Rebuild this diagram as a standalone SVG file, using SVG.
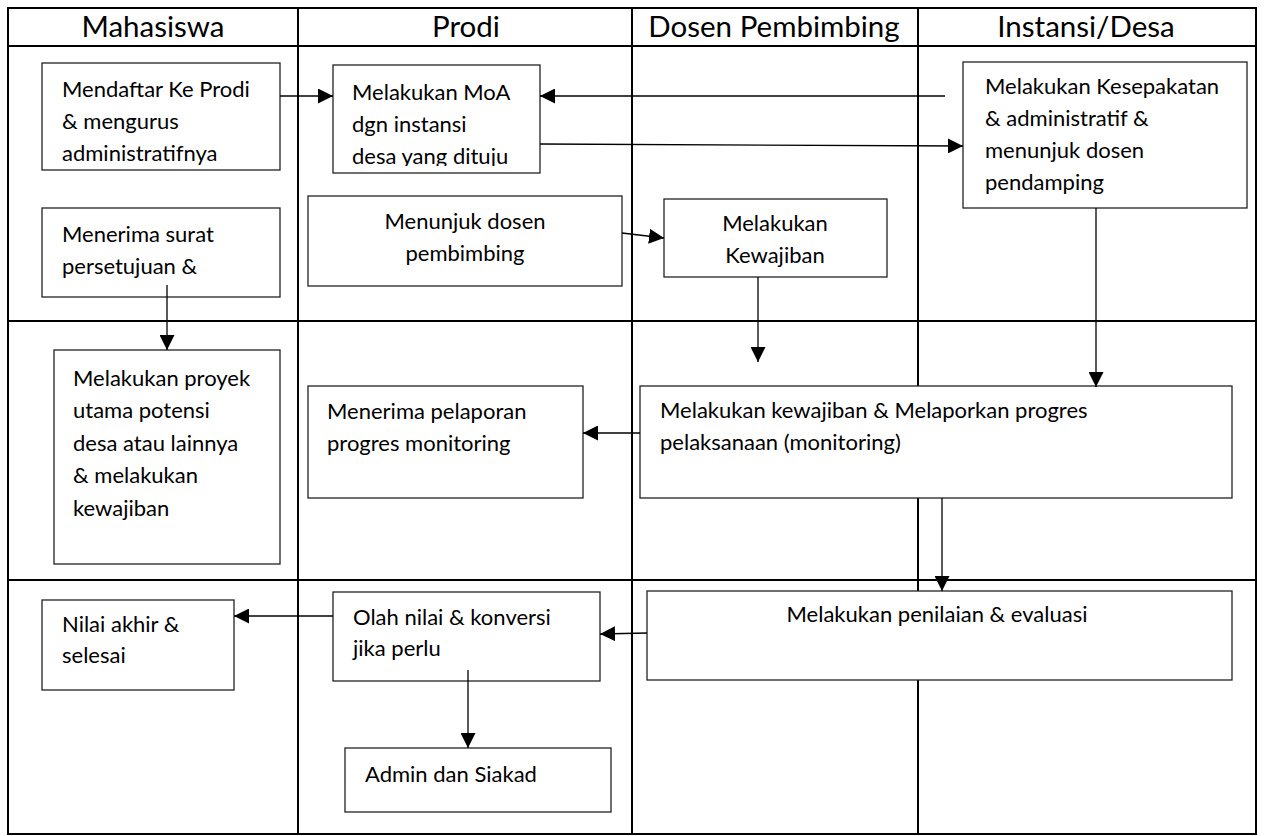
<svg xmlns="http://www.w3.org/2000/svg" width="1264" height="836" viewBox="0 0 1264 836">
  <style>
    .grid { stroke: #000; stroke-width: 2; fill: none; }
    .box { fill: #fff; stroke: #222; stroke-width: 1.3; }
    .hdr { font-family: Lato, "Open Sans", sans-serif; font-size: 29.5px; fill: #000; text-anchor: middle; }
    .t { font-family: Lato, "Open Sans", sans-serif; font-size: 22px; fill: #000; }
    .c { text-anchor: middle; }
    .edge { stroke: #000; stroke-width: 1.3; fill: none; marker-end: url(#arrow); }
  </style>
  <defs>
    <marker id="arrow" markerWidth="15" markerHeight="15" refX="15" refY="7.5" orient="auto" markerUnits="userSpaceOnUse">
      <path d="M0,0 L15,7.5 L0,15 Z" fill="#000"/>
    </marker>
    <clipPath id="clipMoa"><rect x="333" y="65" width="207" height="101"/></clipPath>
  </defs>

  <rect width="1264" height="836" fill="#fff"/>

  <!-- swimlane table -->
  <g id="lanes">
    <rect class="grid" x="8" y="8" width="1248" height="826"/>
    <line class="grid" x1="8" y1="46" x2="1256" y2="46"/>
    <line class="grid" x1="8" y1="321" x2="1256" y2="321"/>
    <line class="grid" x1="8" y1="580" x2="1256" y2="580"/>
    <line class="grid" x1="298" y1="8" x2="298" y2="834"/>
    <line class="grid" x1="632" y1="8" x2="632" y2="834"/>
    <line class="grid" x1="918" y1="8" x2="918" y2="834"/>
    <text class="hdr" x="153" y="37">Mahasiswa</text>
    <text class="hdr" x="466" y="37">Prodi</text>
    <text class="hdr" x="774" y="37">Dosen Pembimbing</text>
    <text class="hdr" x="1086" y="37">Instansi/Desa</text>
  </g>

  <g id="n-mendaftar">
    <rect class="box" x="42" y="63" width="238" height="107"/>
    <text class="t" x="62" y="97">Mendaftar Ke Prodi</text>
    <text class="t" x="62" y="129">&amp; mengurus</text>
    <text class="t" x="62" y="161">administratifnya</text>
  </g>

  <g id="n-moa">
    <rect class="box" x="333" y="65" width="207" height="108"/>
    <g clip-path="url(#clipMoa)">
      <text class="t" x="352" y="100">Melakukan MoA</text>
      <text class="t" x="352" y="132">dgn instansi</text>
      <text class="t" x="352" y="164">desa yang dituju</text>
    </g>
  </g>

  <g id="n-kesepakatan">
    <rect class="box" x="963" y="62" width="284" height="146"/>
    <text class="t" x="985" y="94">Melakukan Kesepakatan</text>
    <text class="t" x="985" y="126">&amp; administratif &amp;</text>
    <text class="t" x="985" y="158">menunjuk dosen</text>
    <text class="t" x="985" y="190">pendamping</text>
  </g>

  <g id="n-surat">
    <rect class="box" x="42" y="208" width="238" height="89"/>
    <text class="t" x="62" y="242">Menerima surat</text>
    <text class="t" x="62" y="274">persetujuan &amp;</text>
  </g>

  <g id="n-menunjuk">
    <rect class="box" x="308" y="196" width="314" height="90"/>
    <text class="t c" x="465" y="229">Menunjuk dosen</text>
    <text class="t c" x="465" y="261">pembimbing</text>
  </g>

  <g id="n-kewajiban-dosen">
    <rect class="box" x="664" y="199" width="223" height="78"/>
    <text class="t c" x="775" y="231">Melakukan</text>
    <text class="t c" x="775" y="263">Kewajiban</text>
  </g>

  <g id="n-proyek">
    <rect class="box" x="54" y="350" width="226" height="214"/>
    <text class="t" x="73" y="386">Melakukan proyek</text>
    <text class="t" x="73" y="418">utama potensi</text>
    <text class="t" x="73" y="451">desa atau lainnya</text>
    <text class="t" x="73" y="483">&amp; melakukan</text>
    <text class="t" x="73" y="516">kewajiban</text>
  </g>

  <g id="n-pelaporan">
    <rect class="box" x="308" y="386" width="275" height="112"/>
    <text class="t" x="327" y="419">Menerima pelaporan</text>
    <text class="t" x="327" y="451">progres monitoring</text>
  </g>

  <g id="n-monitoring">
    <rect class="box" x="640" y="386" width="592" height="112"/>
    <text class="t" x="660" y="418">Melakukan kewajiban &amp; Melaporkan progres</text>
    <text class="t" x="660" y="450">pelaksanaan (monitoring)</text>
  </g>

  <g id="n-nilai-akhir">
    <rect class="box" x="42" y="600" width="192" height="90"/>
    <text class="t" x="62" y="632">Nilai akhir &amp;</text>
    <text class="t" x="62" y="663">selesai</text>
  </g>

  <g id="n-olah-nilai">
    <rect class="box" x="333" y="592" width="267" height="89"/>
    <text class="t" x="353" y="625">Olah nilai &amp; konversi</text>
    <text class="t" x="353" y="656">jika perlu</text>
  </g>

  <g id="n-admin">
    <rect class="box" x="345" y="748" width="266" height="64"/>
    <text class="t" x="365" y="782">Admin dan Siakad</text>
  </g>

  <g id="n-penilaian">
    <rect class="box" x="647" y="591" width="585" height="89"/>
    <text class="t c" x="937" y="622">Melakukan penilaian &amp; evaluasi</text>
  </g>

  <!-- connectors, drawn on top so lines starting inside a box stay visible -->
  <g id="connectors">
    <line class="edge" x1="280" y1="96" x2="333" y2="96"/>
    <line class="edge" x1="945" y1="96" x2="540" y2="96"/>
    <line class="edge" x1="540" y1="144" x2="963" y2="146"/>
    <line class="edge" x1="622" y1="233" x2="664" y2="238"/>
    <line class="edge" x1="167" y1="285" x2="167" y2="350"/>
    <line class="edge" x1="758" y1="277" x2="758" y2="362"/>
    <line class="edge" x1="1096" y1="208" x2="1096" y2="387"/>
    <line class="edge" x1="640" y1="433" x2="583" y2="433"/>
    <line class="edge" x1="942" y1="498" x2="942" y2="591"/>
    <line class="edge" x1="647" y1="633" x2="600" y2="634"/>
    <line class="edge" x1="333" y1="616" x2="234" y2="616"/>
    <line class="edge" x1="468" y1="670" x2="468" y2="748"/>
  </g>
</svg>
